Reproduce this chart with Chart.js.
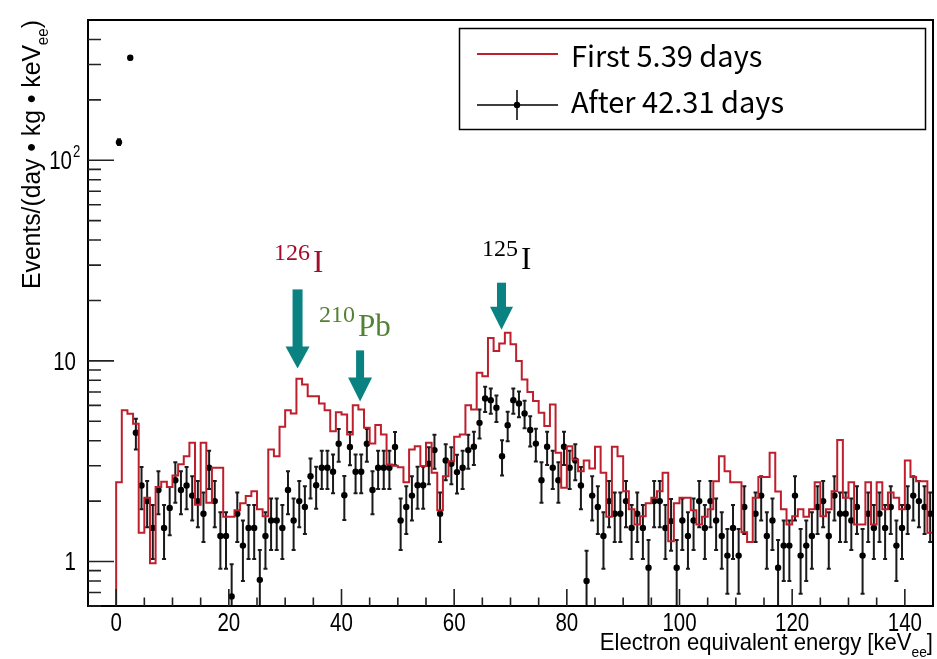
<!DOCTYPE html>
<html lang="en">
<head>
<meta charset="UTF-8">
<title>Energy spectrum</title>
<script src="https://cdn.jsdelivr.net/npm/chart.js"></script>
<style>
    body { margin: 0; background: #ffffff; }
    canvas { display: block; }
</style>
</head>
<body>
<canvas id="spectrum" width="937" height="659"></canvas>
<script>
// histogram binning: 1 keV bins starting at 0 keV
const binStart = 0;
const binWidth = 1;

// "First 5.39 days" (red histogram), one value per bin
const firstDays = [
    2.48, 5.68, 5.45, 4.86, 1.39, 2.08, 0.98, 2.35, 2.50, 2.35,
    2.68, 3.05, 3.35, 3.91, 1.92, 3.91, 1.96, 2.93, 2.93, 1.67,
    1.67, 1.80, 1.95, 2.12, 2.24, 1.82, 1.68, 3.62, 3.35, 4.69,
    5.68, 5.47, 8.14, 7.62, 6.67, 6.67, 6.13, 5.68, 4.46, 5.55,
    5.40, 4.30, 6.00, 5.72, 4.64, 3.87, 4.79, 4.30, 3.04, 3.00,
    2.95, 2.48, 3.62, 3.75, 2.99, 3.91, 2.77, 1.80, 2.66, 3.16,
    4.18, 4.30, 6.00, 5.72, 8.72, 8.39, 13.0, 11.2, 12.2, 13.8,
    12.1, 9.97, 8.08, 7.00, 6.30, 5.51, 4.73, 6.06, 3.48, 2.33,
    3.75, 3.22, 2.82, 3.19, 2.91, 3.73, 2.77, 1.67, 3.73, 3.35,
    2.24, 1.82, 1.53, 1.68, 1.95, 2.08, 2.24, 2.77, 1.26, 1.95,
    2.08, 2.08, 1.80, 1.53, 1.67, 1.82, 2.51, 3.35, 2.82, 2.48,
    2.48, 1.40, 1.25, 2.08, 2.64, 2.64, 3.48, 2.23, 1.82, 1.53,
    1.68, 1.82, 1.67, 1.82, 2.48, 1.68, 1.82, 2.24, 4.03, 2.08,
    2.48, 1.53, 1.53, 2.48, 1.53, 2.48, 1.82, 2.21, 2.08, 1.82,
    3.19, 2.64, 2.51, 2.51, 1.39
];

// "After 42.31 days" (black points at bin centres), null = not on the plot
const afterDays = [
    123, null, 324, 4.38, 2.39, 2.00, 1.47, 2.27, 1.47, 1.85,
    2.54, 2.27, 2.39, 2.13, 2.00, 1.73, 2.93, 2.00, 1.34, 1.34,
    0.67, 1.73, 1.20, 1.47, 1.47, 0.81, 1.34, 1.60, 1.60, 1.47,
    2.27, 1.60, 2.00, 1.87, 2.66, 2.40, 2.93, 2.93, 2.80, 3.86,
    2.14, 3.72, 2.80, 2.80, 3.86, 2.27, 2.93, 2.93, 2.93, 3.72,
    1.60, 1.87, 2.13, 2.40, 2.40, 3.07, 3.59, 1.73, 3.19, 3.07,
    2.79, 2.93, 3.59, 3.73, 4.91, 6.49, 6.37, 5.84, 3.35, 4.78,
    6.37, 6.13, 5.47, 4.52, 3.87, 2.54, 3.73, 2.93, 2.54, 3.73,
    2.93, 3.19, 2.39, 0.80, 2.13, 1.87, 1.34, 2.00, 1.73, 1.73,
    2.00, 1.47, 1.73, 1.47, 0.93, 2.00, 2.00, 1.47, 1.59, 0.93,
    1.60, 1.34, 1.60, 2.00, 1.47, 2.00, 1.60, 1.34, 1.07, 1.47,
    1.07, 1.87, null, 1.73, 2.13, 1.34, 1.60, 0.93, 1.20, 1.20,
    2.13, 1.07, 1.20, 1.34, 1.87, 2.00, 1.34, 2.13, 1.73, 1.73,
    1.60, 1.87, 1.07, 1.73, 1.47, 1.73, 1.47, 1.87, 1.20, 1.47,
    1.87, 2.13, 2.00, 1.87, 1.73
];

// statistical error of each black point
const afterErr = [
    4.05, null, 6.60, 0.76, 0.57, 0.52, 0.44, 0.55, 0.44, 0.50,
    0.58, 0.55, 0.57, 0.53, 0.52, 0.48, 0.63, 0.52, 0.42, 0.42,
    0.30, 0.48, 0.40, 0.44, 0.44, 0.33, 0.42, 0.46, 0.46, 0.44,
    0.55, 0.46, 0.52, 0.50, 0.60, 0.57, 0.63, 0.63, 0.61, 0.72,
    0.53, 0.70, 0.61, 0.61, 0.72, 0.55, 0.63, 0.63, 0.63, 0.70,
    0.46, 0.50, 0.53, 0.57, 0.57, 0.64, 0.69, 0.48, 0.65, 0.64,
    0.61, 0.63, 0.69, 0.70, 0.81, 0.93, 0.92, 0.88, 0.67, 0.80,
    0.92, 0.90, 0.85, 0.78, 0.72, 0.58, 0.70, 0.63, 0.58, 0.70,
    0.63, 0.65, 0.57, 0.33, 0.53, 0.50, 0.42, 0.52, 0.48, 0.48,
    0.52, 0.44, 0.48, 0.44, 0.35, 0.52, 0.52, 0.44, 0.46, 0.35,
    0.46, 0.42, 0.46, 0.52, 0.44, 0.52, 0.46, 0.42, 0.38, 0.44,
    0.38, 0.50, null, 0.48, 0.53, 0.42, 0.46, 0.35, 0.40, 0.40,
    0.53, 0.38, 0.40, 0.42, 0.50, 0.52, 0.42, 0.53, 0.48, 0.48,
    0.46, 0.50, 0.38, 0.48, 0.44, 0.48, 0.44, 0.50, 0.40, 0.44,
    0.50, 0.53, 0.52, 0.50, 0.48
];

const xTickLabels = [0, 20, 40, 60, 80, 100, 120, 140];
const yTickLabels = [1, 10, 100];

const redColor = '#bf1f2c';
const arrowColor = '#0a8282';

// step histogram: one point per right bin edge, outline starts from the floor at 0 keV
const redPoints = [{ x: -5, y: 0.01 }, { x: binStart, y: 0.01 }];
firstDays.forEach((v, i) => redPoints.push({ x: binStart + (i + 1) * binWidth, y: v }));

const blackPoints = [];
afterDays.forEach((v, i) => {
    if (v !== null) blackPoints.push({ x: binStart + (i + 0.5) * binWidth, y: v });
});

// draw a string, optionally squeezed horizontally
function text(ctx, s, x, y, font, color, align, sx) {
    ctx.save();
    ctx.translate(x, y);
    ctx.scale(sx || 1, 1);
    ctx.font = font;
    ctx.fillStyle = color;
    ctx.textAlign = align || 'left';
    ctx.textBaseline = 'alphabetic';
    ctx.fillText(s, 0, 0);
    ctx.restore();
}

// width of a run list [{t, font, dy}]
function runsWidth(ctx, runs, sx) {
    let w = 0;
    runs.forEach(r => { ctx.font = r.font; w += ctx.measureText(r.t).width * sx; });
    return w;
}

function drawRuns(ctx, runs, x, y, color, sx) {
    let cx = x;
    runs.forEach(r => {
        ctx.font = r.font;
        const w = ctx.measureText(r.t).width * sx;
        text(ctx, r.t, cx, y + (r.dy || 0), r.font, color, 'left', sx);
        cx += w;
    });
}

function arrow(ctx, xs, ys, keV, val, shaftLen, shaftW, headW, headH) {
    const tx = xs.getPixelForValue(keV);
    const ty = ys.getPixelForValue(val);
    ctx.fillStyle = arrowColor;
    ctx.fillRect(tx - shaftW / 2, ty - headH - shaftLen, shaftW, shaftLen + 1);
    ctx.beginPath();
    ctx.moveTo(tx - headW / 2, ty - headH);
    ctx.lineTo(tx + headW / 2, ty - headH);
    ctx.lineTo(tx, ty);
    ctx.closePath();
    ctx.fill();
}

const rootStyle = {
    id: 'rootStyle',
    beforeDraw(chart) {
        const ctx = chart.ctx;
        ctx.save();
        ctx.fillStyle = '#ffffff';
        ctx.fillRect(0, 0, chart.width, chart.height);
        ctx.restore();
    },
    beforeDatasetDraw(chart, args) {
        if (args.index !== 1) return;
        const { ctx, chartArea: a } = chart;
        const xs = chart.scales.x, ys = chart.scales.y;
        ctx.save();
        ctx.beginPath();
        ctx.rect(a.left, a.top, a.right - a.left, a.bottom - a.top);
        ctx.clip();
        ctx.strokeStyle = '#1a1a1a';
        ctx.lineWidth = 2;
        afterDays.forEach((v, i) => {
            if (v === null) return;
            const px = xs.getPixelForValue(binStart + (i + 0.5) * binWidth);
            const y1 = ys.getPixelForValue(v + afterErr[i]);
            const y2 = ys.getPixelForValue(Math.max(v - afterErr[i], 0.01));
            ctx.beginPath();
            ctx.moveTo(px, y1); ctx.lineTo(px, y2);
            ctx.moveTo(px - 2, y1); ctx.lineTo(px + 2, y1);
            ctx.moveTo(px - 2, y2); ctx.lineTo(px + 2, y2);
            ctx.stroke();
        });
        ctx.restore();
    },
    afterDraw(chart) {
        const { ctx, chartArea: a } = chart;
        const xs = chart.scales.x, ys = chart.scales.y;
        ctx.save();

        // frame
        ctx.strokeStyle = '#000';
        ctx.lineWidth = 2;
        ctx.strokeRect(a.left, a.top, a.right - a.left, a.bottom - a.top);

        // ticks pointing inwards
        ctx.lineWidth = 1.6;
        ctx.strokeStyle = '#222';
        ctx.beginPath();
        for (let v = 0; v < 145; v += 5) {
            const px = xs.getPixelForValue(v);
            const len = v % 20 === 0 ? 17 : 8.5;
            ctx.moveTo(px, a.bottom); ctx.lineTo(px, a.bottom - len);
        }
        [0.1, 1, 10, 100].forEach(d => {
            for (let m = 1; m <= 9; m++) {
                const v = m * d;
                if (v <= 0.6 || v >= 500) continue;
                const py = ys.getPixelForValue(v);
                const len = m === 1 ? 26 : 13;
                ctx.moveTo(a.left, py); ctx.lineTo(a.left + len, py);
            }
        });
        ctx.stroke();

        // tick labels
        const tickFont = '25px "Liberation Sans", Arial, sans-serif';
        xTickLabels.forEach(v => {
            text(ctx, String(v), xs.getPixelForValue(v), 631, tickFont, '#000', 'center', 0.82);
        });
        yTickLabels.forEach(v => {
            const py = ys.getPixelForValue(v);
            if (v === 100) {
                text(ctx, '10', 72, py + 9, tickFont, '#000', 'right', 0.82);
                text(ctx, '2', 73, py - 3, '16px "Liberation Sans", Arial, sans-serif', '#000', 'left', 0.82);
            } else {
                text(ctx, String(v), 76, py + 9, tickFont, '#000', 'right', 0.82);
            }
        });

        // axis titles
        const tf = '24px "Liberation Sans", Arial, sans-serif';
        const sf = '15px "Liberation Sans", Arial, sans-serif';
        const xRuns = [
            { t: 'Electron equivalent energy [keV', font: tf },
            { t: 'ee', font: sf, dy: 7 },
            { t: ']', font: tf }
        ];
        const xw = runsWidth(ctx, xRuns, 0.92);
        drawRuns(ctx, xRuns, a.right - xw, 650, '#000', 0.92);

        const ytf = '26px "Liberation Sans", Arial, sans-serif';
        const ysf = '16px "Liberation Sans", Arial, sans-serif';
        const yRuns = [
            { t: 'Events/(day \u2022 kg \u2022 keV', font: ytf },
            { t: 'ee', font: ysf, dy: 8 },
            { t: ')', font: ytf }
        ];
        const yw = runsWidth(ctx, yRuns, 0.95);
        ctx.save();
        ctx.translate(40, a.top + yw);
        ctx.rotate(-Math.PI / 2);
        drawRuns(ctx, yRuns, 0, 0, '#000', 0.95);
        ctx.restore();

        // legend
        ctx.fillStyle = '#fff';
        ctx.fillRect(459, 28, 467, 102);
        ctx.lineWidth = 1.5;
        ctx.strokeStyle = '#000';
        ctx.strokeRect(459.5, 28.5, 466, 101);
        ctx.strokeStyle = redColor;
        ctx.lineWidth = 2;
        ctx.beginPath(); ctx.moveTo(477, 54); ctx.lineTo(558, 54); ctx.stroke();
        ctx.strokeStyle = '#000';
        ctx.lineWidth = 1.5;
        ctx.beginPath();
        ctx.moveTo(477, 105); ctx.lineTo(558, 105);
        ctx.moveTo(517, 90); ctx.lineTo(517, 120);
        ctx.stroke();
        ctx.fillStyle = '#000';
        ctx.beginPath(); ctx.arc(517, 105, 3.2, 0, Math.PI * 2); ctx.fill();
        const lf = '29px "Noto Sans CJK JP", "Noto Sans", sans-serif';
        text(ctx, 'First 5.39 days', 571, 67, lf, '#000', 'left', 1);
        text(ctx, 'After 42.31 days', 571, 113, lf, '#000', 'left', 1);

        // peak annotations
        arrow(ctx, xs, ys, 32.2, 9.17, 57, 10, 24, 22);
        arrow(ctx, xs, ys, 43.3, 6.28, 27, 8, 24, 24);
        arrow(ctx, xs, ys, 68.4, 14.3, 24, 9, 23, 23);

        const supF = '24px "Liberation Serif", "DejaVu Serif", serif';
        const bigF = '31px "Liberation Serif", "DejaVu Serif", serif';
        text(ctx, '126', 274, 260, supF, '#a30d2d', 'left', 1);
        text(ctx, 'I', 313, 272, bigF, '#a30d2d', 'left', 1);
        text(ctx, '210', 319, 322, supF, '#548235', 'left', 1);
        text(ctx, 'Pb', 358, 336, bigF, '#548235', 'left', 1);
        text(ctx, '125', 482, 256, supF, '#000', 'left', 1);
        text(ctx, 'I', 521, 269, bigF, '#000', 'left', 1);

        ctx.restore();
    }
};

new Chart(document.getElementById('spectrum'), {
    data: {
        datasets: [
            {
                type: 'line',
                label: 'First 5.39 days',
                data: redPoints,
                stepped: 'after',
                borderColor: redColor,
                borderWidth: 2,
                pointRadius: 0,
                fill: false
            },
            {
                type: 'scatter',
                label: 'After 42.31 days',
                data: blackPoints,
                pointRadius: 3.2,
                pointBackgroundColor: '#000',
                pointBorderWidth: 0
            }
        ]
    },
    options: {
        responsive: false,
        animation: false,
        devicePixelRatio: 1,
        layout: { padding: { top: 20, right: 2, left: 0, bottom: 0 } },
        plugins: { legend: { display: false }, tooltip: { enabled: false } },
        scales: {
            x: {
                type: 'linear', min: -5, max: 145,
                grid: { display: false }, border: { display: false },
                ticks: { display: false },
                afterFit(s) { s.height = 53; }
            },
            y: {
                type: 'logarithmic', min: 0.6, max: 500,
                grid: { display: false }, border: { display: false },
                ticks: { display: false },
                afterFit(s) { s.width = 88; }
            }
        }
    },
    plugins: [rootStyle]
});
</script>
</body>
</html>
